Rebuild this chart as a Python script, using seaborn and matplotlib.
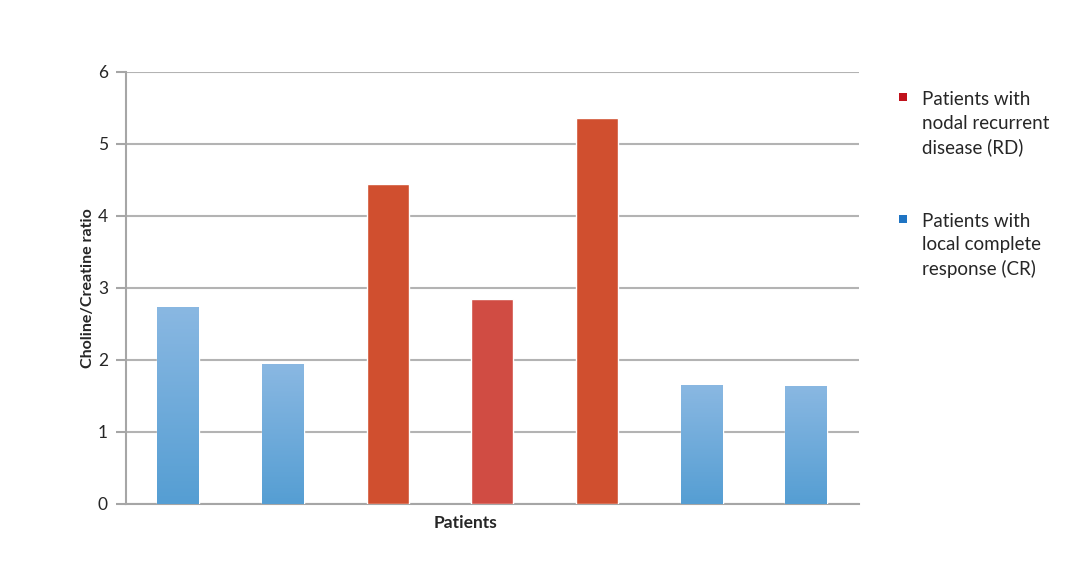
import numpy as np
import pandas as pd
import matplotlib.pyplot as plt
import seaborn as sns
from matplotlib.patches import Rectangle
from matplotlib.colors import LinearSegmentedColormap

# values
patients = ["P1", "P2", "P3", "P4", "P5", "P6", "P7"]
ratio = [2.74, 1.94, 4.45, 2.85, 5.36, 1.65, 1.64]
group = ["CR", "CR", "RD", "RD", "RD", "CR", "CR"]
bar_colors = ["#72ADDE", "#72ADDE", "#D04F2F", "#D04C43", "#D04F2F", "#72ADDE", "#72ADDE"]
legend_labels = ["Patients with\nnodal recurrent\ndisease (RD)",
                 "Patients with\nlocal complete\nresponse (CR)"]
legend_colors = ["#C0121C", "#1F74C3"]

df = pd.DataFrame({"patient": patients, "ratio": ratio, "group": group})

sns.set_style("white")
plt.rcParams["font.family"] = ["Lato", "DejaVu Sans"]

fig = plt.figure(figsize=(10.82, 5.70), dpi=100)
ax = fig.add_axes([0.1165, 0.1158, 0.677, 0.758])

sns.barplot(data=df, x="patient", y="ratio", hue="patient", palette=bar_colors,
            saturation=1, width=0.4, legend=False, ax=ax, zorder=3)

# blue bars get the top-to-bottom gradient
blue_grad = LinearSegmentedColormap.from_list("bg", ["#559ED3", "#8AB8E2"])
grad = np.linspace(0, 1, 256).reshape(-1, 1)
for patch, g in zip(ax.patches, group):
    if g == "CR":
        x0, w, h = patch.get_x(), patch.get_width(), patch.get_height()
        im = ax.imshow(grad, cmap=blue_grad, aspect="auto", origin="lower",
                       extent=[x0, x0 + w, 0, h], zorder=4)
        im.set_clip_path(patch)
ax.set_xlim(-0.5, len(patients) - 0.5)

ax.set_ylim(0, 6)
ax.set_yticks(range(7))
ax.yaxis.grid(True, color="#B3B3B3", linewidth=1.5, zorder=0)
ax.set_axisbelow(True)
for s in ["top", "right"]:
    ax.spines[s].set_visible(False)
for s in ["left", "bottom"]:
    ax.spines[s].set_color("#A6A6A6")
    ax.spines[s].set_linewidth(1.5)
ax.tick_params(axis="y", left=True, length=7, width=1.5, color="#A6A6A6",
               labelsize=12.5, pad=6)
ax.set_xticks([])
ax.set_xlabel("Patients", fontsize=12.5, fontweight="bold")
ax.xaxis.set_label_coords(0.463, -0.025, transform=ax.transAxes)
ax.xaxis.label.set_va("top")
ax.set_ylabel("Choline/Creatine ratio", fontsize=11.5, fontweight="bold")
ax.yaxis.set_label_coords(-0.043, 0.5)

# legend drawn as squares + text to the right of the plot
legend_tops = [0.828, 0.614]
for lab, col, ty in zip(legend_labels, legend_colors, legend_tops):
    fig.patches.append(Rectangle((0.831, ty - 0.006), 0.0075, 0.0145, facecolor=col,
                                 edgecolor="none", transform=fig.transFigure))
    fig.text(0.852, ty + 0.012, lab, fontsize=13.5, va="top", ha="left",
             linespacing=1.45)

fig.savefig("out.png", dpi=100)
